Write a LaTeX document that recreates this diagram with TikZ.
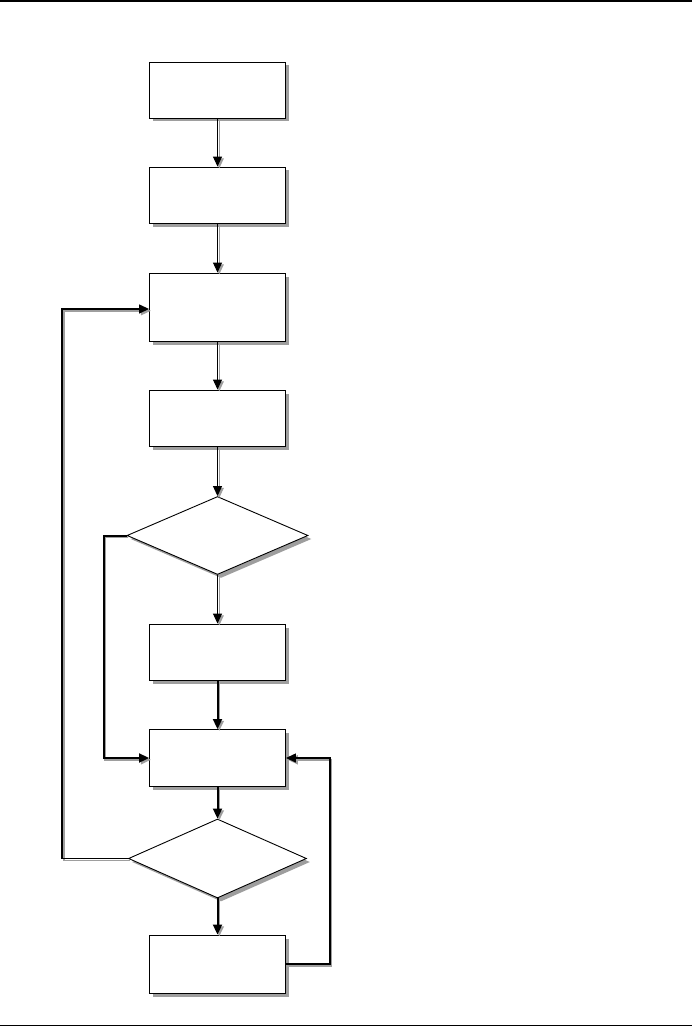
\documentclass[tikz,border=0pt]{standalone}
\usetikzlibrary{shapes.geometric,shadows,arrows.meta}
\begin{document}
\begin{tikzpicture}[x=1pt,y=-1pt,
  shad/.style={drop shadow={shadow xshift=3.5pt,shadow yshift=-3.5pt,fill=black!38,opacity=1}},
  boxnode/.style={draw=black,line width=0.9pt,fill=white,rectangle,minimum width=136pt,minimum height=56pt,inner sep=0pt,shad},
  decnode/.style={draw=black,line width=0.9pt,fill=white,diamond,inner sep=0pt,shad},
  conn/.style={line width=#1,-{Triangle[length=10pt,width=9pt]},
    preaction={draw=black!38,line width=#1,transform canvas={shift={(1.8pt,-1.8pt)}}}},
  conn/.default=1pt]
\useasboundingbox (0,0) rectangle (692,1027);
\draw[line width=2pt] (0,1) -- (692,1);
\draw[line width=1.4pt] (0,1025.5) -- (692,1025.5);

\node[boxnode] (b1) at (217.5,90) {};
\node[boxnode] (b2) at (217.5,195) {};
\node[boxnode,minimum height=68pt] (b3) at (217.5,307) {};
\node[boxnode] (b4) at (217.5,418) {};
\node[decnode,minimum width=181pt,minimum height=78pt] (d1) at (217.5,535.5) {};
\node[boxnode] (b5) at (217.5,652) {};
\node[boxnode,minimum height=57pt] (b6) at (217.5,758) {};
\node[decnode,minimum width=178pt,minimum height=79pt] (d2) at (217.5,858.5) {};
\node[boxnode,minimum height=58pt] (b7) at (217.5,964) {};

\draw[conn] (b1.south) -- (b2.north);
\draw[conn] (b2.south) -- (b3.north);
\draw[conn] (b3.south) -- (b4.north);
\draw[conn] (b4.south) -- (d1.north);
\draw[conn] (d1.south) -- (b5.north);
\draw[conn=2pt] (b5.south) -- (b6.north);
\draw[conn=2pt] (d1.west) -- ++(-23,0) |- (b6.west);
\draw[conn=2pt] (b6.south) -- (d2.north);
\draw[conn=2pt] (d2.south) -- (b7.north);
\draw[conn=1.4pt] (d2.west) -- ++(-66,0) |- ([yshift=-2pt]b3.west);
\draw[conn=1.4pt] (b7.east) -- ++(44,0) |- (b6.east);
\end{tikzpicture}
\end{document}
